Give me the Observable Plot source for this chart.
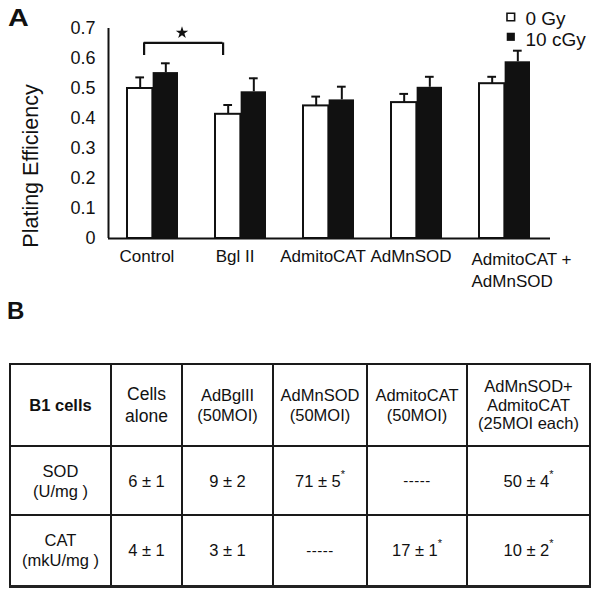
<!DOCTYPE html>
<html>
<head>
<meta charset="utf-8">
<script src="https://cdn.jsdelivr.net/npm/d3@7"></script>
<script src="https://cdn.jsdelivr.net/npm/@observablehq/plot@0.6"></script>
<style>
  body { margin: 0; background: #fff; font-family: "Liberation Sans", Arial, Helvetica, sans-serif; color: #111; }
  #wrap { position: relative; width: 600px; height: 594px; overflow: hidden; background: #fff; }
  #chart { position: absolute; left: 0; top: 0; }
  .panel { position: absolute; font-weight: bold; font-size: 24px; line-height: 1; }
  #labA { left: 8px; top: 7px; font-size: 23px; transform: scaleX(1.25); transform-origin: left top; }
  #labB { left: 7px; top: 299px; }
  #tbl { position: absolute; left: 9px; top: 363px; border-collapse: collapse; table-layout: fixed; }
  #tbl td { border: 2px solid #1a1a1a; text-align: center; vertical-align: middle; padding: 0; font-size: 16.5px; line-height: 20px; }
  #tbl tr:first-child td { border-top: 3px solid #222; }
  #tbl tr:last-child td { border-bottom: 3px solid #222; }
  #tbl sup { font-size: 11px; line-height: 0; vertical-align: 9px; }
  #tbl .corner { font-weight: bold; font-size: 16.5px; }
  #tbl .dash { font-size: 15px; letter-spacing: 0.5px; }
</style>
</head>
<body>
<div id="wrap">
  <div id="chart"></div>
  <div class="panel" id="labA">A</div>
  <div class="panel" id="labB">B</div>
  <table id="tbl"></table>
</div>
<script>
// ---------- Panel A data ----------
const groups = ["Control", "Bgl II", "AdmitoCAT", "AdMnSOD", "AdmitoCAT +\nAdMnSOD"];
const series = ["0 Gy", "10 cGy"];
const pe0Gy = [0.500, 0.414, 0.442, 0.453, 0.516];
const pe10cGy = [0.553, 0.489, 0.462, 0.504, 0.589];
const err0Gy = [0.037, 0.031, 0.031, 0.029, 0.023];
const err10cGy = [0.031, 0.045, 0.044, 0.035, 0.037];
const yTicks = [0, 0.1, 0.2, 0.3, 0.4, 0.5, 0.6, 0.7];
const yTickLabels = ["0", "0.1", "0.2", "0.3", "0.4", "0.5", "0.6", "0.7"];
const yLabel = "Plating Efficiency";
const significance = [{from: "Control", to: "Bgl II", level: 0.652, tick: 0.61, mark: 0.686}];

// ---------- Panel B data ----------
const tableCorner = "B1 cells";
const tableColumns = ["Cells\nalone", "AdBglII\n(50MOI)", "AdMnSOD\n(50MOI)", "AdmitoCAT\n(50MOI)", "AdMnSOD+\nAdmitoCAT\n(25MOI each)"];
const tableRows = ["SOD\n(U/mg )", "CAT\n(mkU/mg )"];
const sodValues = ["6 ± 1", "9 ± 2", "71 ± 5*", "-----", "50 ± 4*"];
const catValues = ["4 ± 1", "3 ± 1", "-----", "17 ± 1*", "10 ± 2*"];

// ---------- Layout / style ----------
const W = 600, H = 290, mL = 108, mR = 50, mT = 28, mB = 52;
const padIn = 0.42, padOut = 0.21;
const step = (W - mL - mR) / (groups.length - padIn + 2 * padOut);
const bw = step * (1 - padIn);
const capW = 9;
const capInset = (bw - capW) / 2;
const ink = "#111";
const seriesFill = ["#fff", ink];

const rows = groups.map((g, i) => ({group: g, v0: pe0Gy[i], e0: pe0Gy[i] + err0Gy[i], v1: pe10cGy[i], e1: pe10cGy[i] + err10cGy[i]}));
const singleLine = groups.filter(g => !g.includes("\n"));
const multiLine = groups.filter(g => g.includes("\n"));

const legendMarks = series.flatMap((s, i) => [
  Plot.dot([s], {frameAnchor: "top-right", symbol: "square", r: i === 0 ? 4.3 : 4.6, fill: seriesFill[i], stroke: ink, strokeWidth: i === 0 ? 1.6 : 0, dx: -39.7, dy: -11.5 + i * 19.8}),
  Plot.text([s], {frameAnchor: "top-right", text: d => d, textAnchor: "start", lineAnchor: "bottom", dx: -25, dy: -4 + i * 21, fontSize: 19, fill: ink})
]);

const plot = Plot.plot({
  width: W, height: H,
  marginLeft: mL, marginRight: mR, marginTop: mT, marginBottom: mB,
  style: {fontFamily: '"Liberation Sans", Arial, Helvetica, sans-serif', fontSize: "17px", color: ink, background: "#fff", overflow: "visible"},
  x: {domain: groups, paddingInner: padIn, paddingOuter: padOut, align: 0.5, axis: null},
  y: {domain: [0, 0.7], axis: null},
  marks: [
    Plot.axisY({ticks: yTicks, tickFormat: d => yTickLabels[yTicks.indexOf(d)], tickSize: 0, tickPadding: 13, fontSize: 18, label: null}),
    Plot.text([yLabel], {frameAnchor: "left", text: d => d, rotate: -90, textAnchor: "middle", lineAnchor: "bottom", dx: -70.7, dy: 32.5, fontSize: 21.5, fill: ink}),
    Plot.text(singleLine, {x: d => d, text: d => d, frameAnchor: "bottom", lineAnchor: "top", dx: -6, dy: 11, fontSize: 17, fill: ink}),
    Plot.text(multiLine, {x: d => d, text: d => d, frameAnchor: "bottom", lineAnchor: "top", textAnchor: "start", dx: -33.5, dy: 11, fontSize: 17, lineHeight: 1.3, fill: ink}),
    // bars
    Plot.barY(rows, {x: "group", y: "v0", fill: seriesFill[0], stroke: ink, strokeWidth: 2, insetRight: bw / 2}),
    Plot.barY(rows, {x: "group", y: "v1", fill: seriesFill[1], insetLeft: bw / 2}),
    // error bars (upper)
    Plot.ruleX(rows, {x: "group", y1: "v0", y2: "e0", dx: -bw / 4, stroke: ink, strokeWidth: 2}),
    Plot.tickY(rows, {x: "group", y: "e0", dx: -bw / 4, insetLeft: capInset, insetRight: capInset, stroke: ink, strokeWidth: 2}),
    Plot.ruleX(rows, {x: "group", y1: "v1", y2: "e1", dx: bw / 4, stroke: ink, strokeWidth: 2}),
    Plot.tickY(rows, {x: "group", y: "e1", dx: bw / 4, insetLeft: capInset, insetRight: capInset, stroke: ink, strokeWidth: 2}),
    // axes lines
    Plot.ruleX([0], {x: null, y1: 0, y2: 0.7, dx: -(W - mL - mR) / 2, stroke: ink, strokeWidth: 2}),
    Plot.ruleY([0], {stroke: ink, strokeWidth: 2}),
    // significance bracket
    Plot.ruleY(significance, {x1: "from", x2: "to", y: "level", insetLeft: 16.7, insetRight: 43.6, stroke: ink, strokeWidth: 2.2}),
    Plot.ruleX(significance, {x: "from", y1: "tick", y2: "level", dx: -8.9, stroke: ink, strokeWidth: 2.2}),
    Plot.ruleX(significance, {x: "to", y1: "tick", y2: "level", dx: -17.9, stroke: ink, strokeWidth: 2.2}),
    Plot.dot(significance, {x: "from", y: "mark", symbol: "star", r: 3.9, fill: ink, dx: 29}),
    ...legendMarks
  ]
});
document.getElementById("chart").appendChild(plot);

// ---------- Table ----------
const colWidths = [101, 71, 91, 94, 100, 123];
const headerLineHeights = [null, 22, 20, 20, 20, 18.5];
const rowHeights = [82, 69, 71];
const esc = s => s.replace(/&/g, "&amp;").replace(/</g, "&lt;");
function cellHTML(s) {
  if (/^-+$/.test(s)) return `<span class="dash">${s}</span>`;
  let star = "";
  if (s.endsWith("*")) { s = s.slice(0, -1); star = "<sup>*</sup>"; }
  return s.split("\n").map(esc).join("<br>") + star;
}
const tbl = document.getElementById("tbl");
const cg = document.createElement("colgroup");
colWidths.forEach(w => { const c = document.createElement("col"); c.style.width = w + "px"; cg.appendChild(c); });
tbl.appendChild(cg);
const headerRow = [tableCorner, ...tableColumns];
const bodyRows = [[tableRows[0], ...sodValues], [tableRows[1], ...catValues]];
[headerRow, ...bodyRows].forEach((r, ri) => {
  const tr = document.createElement("tr");
  tr.style.height = rowHeights[ri] + "px";
  r.forEach((v, ci) => {
    const td = document.createElement("td");
    td.innerHTML = cellHTML(v);
    if (ri === 0 && ci === 0) td.className = "corner";
    if (ri === 0 && headerLineHeights[ci]) { td.style.lineHeight = headerLineHeights[ci] + "px"; td.style.fontSize = ci === 1 ? "17.5px" : "16.5px"; }
    tr.appendChild(td);
  });
  tbl.appendChild(tr);
});
</script>
</body>
</html>
